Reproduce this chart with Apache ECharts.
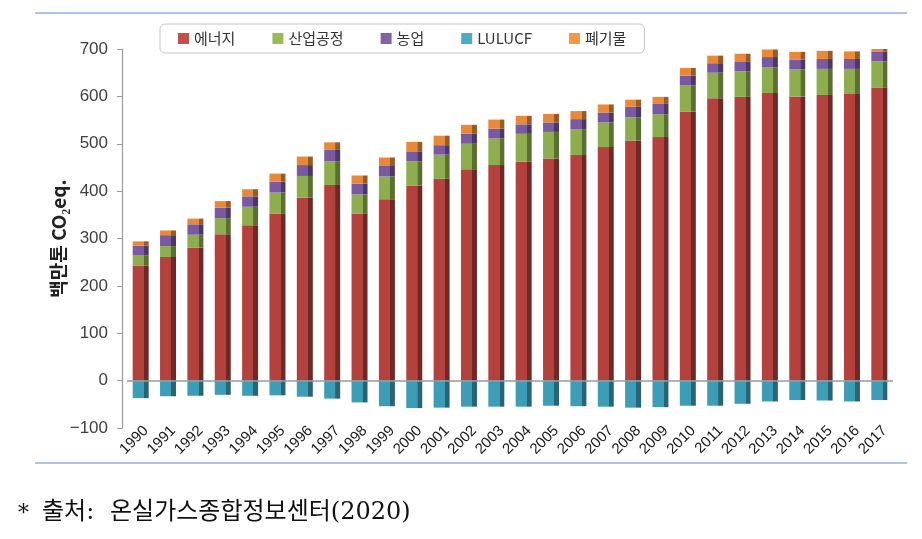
<!DOCTYPE html>
<html>
<head>
<meta charset="utf-8">
<script src="https://cdn.jsdelivr.net/npm/echarts@6/dist/echarts.min.js"></script>
<style>
html,body{margin:0;padding:0;background:#fff;}
#chart{width:922px;height:539px;}
</style>
</head>
<body>
<div id="chart"></div>
<script>
// ---- data ----
var years = ['1990','1991','1992','1993','1994','1995','1996','1997','1998','1999','2000','2001','2002','2003','2004','2005','2006','2007','2008','2009','2010','2011','2012','2013','2014','2015','2016','2017'];
var energy   = [243, 261, 281, 309, 328, 352, 386, 413, 352, 383, 412, 426, 446, 455, 462, 469, 476, 493, 507, 514, 568, 596, 599, 607, 600, 603, 605, 618];
var industry = [21, 23, 27, 34, 39, 45, 46, 50, 41, 48, 51, 51, 54, 56, 59, 56, 55, 52, 49, 48, 55, 54, 54, 54, 57, 55, 53, 56];
var agri     = [21, 23, 22, 22, 22, 23, 23, 24, 23, 22, 21, 20, 21, 21, 20, 20, 21, 21, 22, 22, 21, 20, 21, 22, 21, 21, 21, 21];
var lulucf   = [-37, -33, -32, -30, -32, -31, -34, -38, -46, -54, -58, -57, -55, -55, -55, -53, -54, -55, -57, -56, -53, -53, -49, -44, -41, -42, -44, -41];
var waste    = [9, 10, 12, 14, 15, 17, 18, 16, 17, 18, 20, 20, 19, 19, 18, 18, 17, 17, 15, 15, 16, 16, 16, 16, 16, 17, 16, 12];
var seriesNames = ['에너지', '산업공정', '농업', 'LULUCF', '폐기물'];
var yTicks = {min: -100, max: 700, step: 100};
var yName = '백만톤 CO₂eq.';
var sourceNote = ['*', '출처:', '온실가스종합정보센터(2020)'];

// ---- styles ----
var faces  = ['#B3423F', '#8DAD4E', '#7A5A9F', '#3D9DB6', '#E8893A'];
var shades = ['#702826', '#5A7031', '#4C3866', '#276576', '#9A5A25'];
var legendColors = ['#C0504D', '#9BBB59', '#8064A2', '#4BACC6', '#F79646'];
var seriesData = [energy, industry, agri, lulucf, waste];
var serifFont = '"DejaVu Serif", "Noto Sans CJK KR"';

function barColor(i) {
  return {
    type: 'linear', x: 0, y: 0, x2: 1, y2: 0,
    colorStops: [
      {offset: 0, color: faces[i]},
      {offset: 0.70, color: faces[i]},
      {offset: 0.71, color: shades[i]},
      {offset: 1, color: shades[i]}
    ]
  };
}

var series = seriesNames.map(function (name, i) {
  var s = {
    name: name,
    type: 'bar',
    stack: 'total',
    barWidth: 16,
    data: seriesData[i],
    itemStyle: {color: barColor(i)},
    emphasis: {disabled: true},
    clip: true
  };
  if (i === 0) {
    s.markLine = {
      silent: true,
      symbol: 'none',
      label: {show: false},
      lineStyle: {color: '#9a9a9a', type: 'solid', width: 1.5},
      data: [{yAxis: 0}]
    };
  }
  return s;
});

var chart = echarts.init(document.getElementById('chart'), null, {renderer: 'canvas'});
chart.setOption({
  animation: false,
  backgroundColor: '#fff',
  grid: {left: 127, right: 29, top: 49, bottom: 111, containLabel: false},
  legend: {
    left: 160, top: 24,
    padding: [7, 18, 7, 18],
    itemWidth: 11, itemHeight: 11, itemGap: 37,
    icon: 'rect',
    borderColor: '#c4c4c4', borderWidth: 1, borderRadius: 5,
    textStyle: {fontSize: 15, color: '#333', fontFamily: '"Noto Sans CJK KR"'},
    data: seriesNames.map(function (n, i) { return {name: n, itemStyle: {color: legendColors[i]}}; })
  },
  xAxis: {
    type: 'category',
    data: years,
    axisLine: {show: false, onZero: false},
    axisTick: {show: false},
    axisLabel: {rotate: 45, interval: 0, fontSize: 15, color: '#1a1a1a', margin: -5, verticalAlign: 'top', fontFamily: '"Liberation Sans"'}
  },
  yAxis: {
    type: 'value',
    min: yTicks.min, max: yTicks.max, interval: yTicks.step,
    offset: 5,
    axisLine: {show: true, lineStyle: {color: '#9a9a9a', width: 1.2}},
    axisTick: {show: true, length: 5, lineStyle: {color: '#9a9a9a'}},
    splitLine: {show: false},
    axisLabel: {
      fontSize: 17, color: '#404040', margin: 14, fontFamily: '"Liberation Sans"',
      formatter: function (v) { return v < 0 ? '\u2212' + Math.abs(v) : String(v); }
    },
    name: yName,
    nameLocation: 'middle',
    nameGap: 54,
    nameMoveOverlap: false,
    nameTextStyle: {fontSize: 19, fontWeight: 'bold', color: '#222', fontFamily: '"Noto Sans CJK KR"'}
  },
  series: series,
  graphic: [
    {type: 'line', shape: {x1: 35, y1: 13, x2: 907, y2: 13}, style: {stroke: '#8DB3E2', lineWidth: 1.5}, silent: true},
    {type: 'line', shape: {x1: 35, y1: 463, x2: 907, y2: 463}, style: {stroke: '#8DB3E2', lineWidth: 1.5}, silent: true},
    {type: 'text', left: 18, top: 503, style: {text: sourceNote[0], fontSize: 22, fill: '#111', fontFamily: serifFont}},
    {type: 'text', left: 42, top: 501, style: {text: sourceNote[1], fontSize: 24, fill: '#111', fontFamily: serifFont}},
    {type: 'text', left: 110, top: 501, style: {text: sourceNote[2], fontSize: 24, fill: '#111', fontFamily: serifFont}}
  ]
});
</script>
</body>
</html>
